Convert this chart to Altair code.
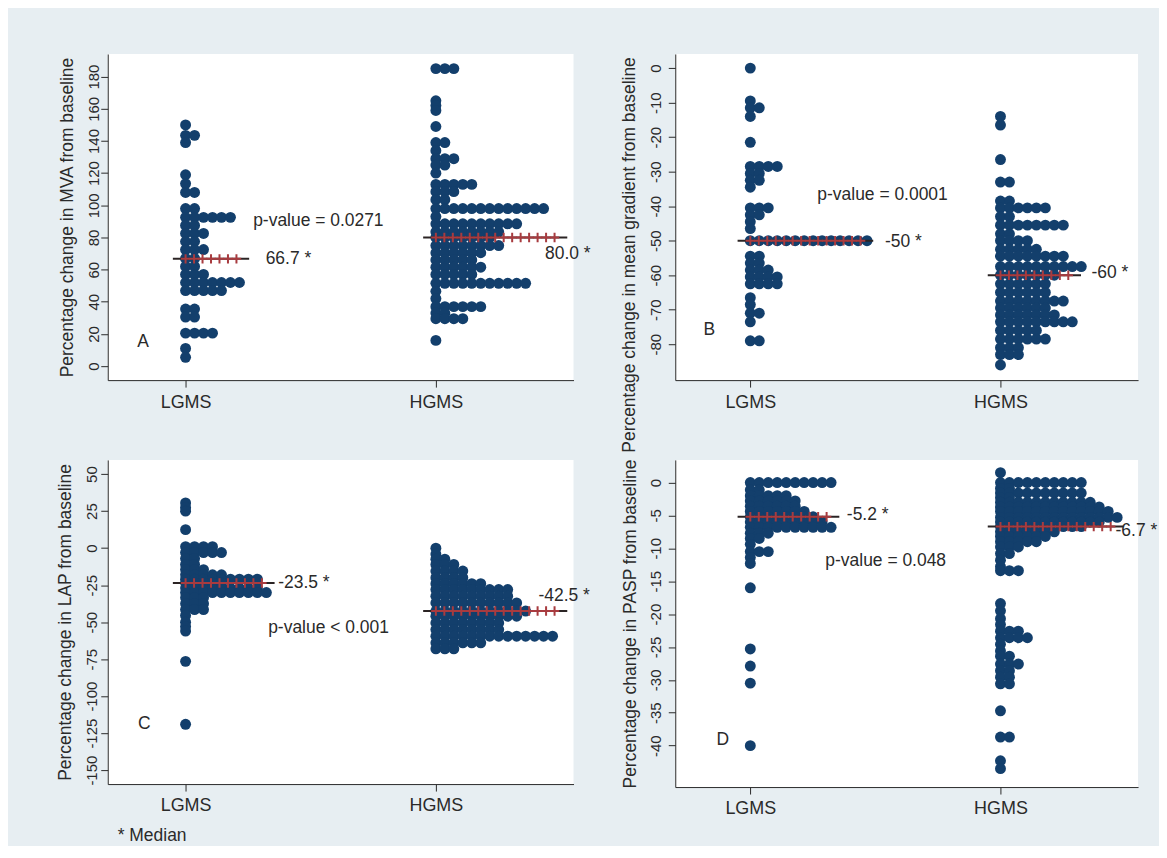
import altair as alt
import pandas as pd

FONT = "Liberation Sans, Arial, Helvetica, sans-serif"
NAVY = "#133f6c"
RED = "#a83b3f"
INK = "#2a2a2a"
BG = "#e7eef2"

GROUPS = ["LGMS", "HGMS"]
GROUP_POS = [1, 2]

# ---------------- Panel A : MVA ----------------
A_TITLE = "Percentage change in MVA from baseline"
A_TICKS = [0, 20, 40, 60, 80, 100, 120, 140, 160, 180]
A_LGMS_Y = [150, 143.5, 139, 119, 113.5, 108, 98, 92.5, 87.5, 82.5, 77.5, 72.5, 67, 62, 57, 52, 47, 35.5, 30.5, 20.5, 11, 5.5]
A_LGMS_N = [1, 2, 1, 1, 1, 2, 2, 6, 2, 3, 2, 3, 2, 2, 3, 7, 5, 2, 2, 4, 1, 1]
A_HGMS_Y = [185, 165, 162, 159, 149, 139, 134, 129, 125, 120, 113, 108.5, 103.5, 98, 93, 88.5, 83.5, 80, 75, 70.5,
            66, 61.5, 57, 51.5, 46.5, 42, 37, 33, 29.5, 16]
A_HGMS_N = [3, 1, 1, 1, 1, 2, 1, 3, 2, 1, 5, 3, 2, 13, 1, 10, 8, 7, 8, 6, 5, 6, 5, 11, 1, 1, 6, 2, 4, 1]
A_MEDIAN = [66.7, 80.0]
A_MEDIAN_MARKS = [7, 15]
A_NOTES = ["p-value = 0.0271", "66.7 *", "80.0 *"]
A_NOTE_X = [1.27, 1.32, 2.436]
A_NOTE_Y = [90.5, 66.8, 69.9]
A_LETTER = ("A", 0.83, 15)

# ---------------- Panel B : mean gradient ----------------
B_TITLE = "Percentage change in mean gradient from baseline"
B_TICKS = [0, -10, -20, -30, -40, -50, -60, -70, -80]
B_LGMS_Y = [0, -9.5, -11.5, -14, -21.5, -28.5, -30.5, -32.5, -34.5, -40.5, -42.5, -44.5, -46.5, -50, -54.5,
            -56.5, -58.5, -60.5, -62.5, -66.5, -68.5, -71, -73.5, -79]
B_LGMS_N = [1, 1, 2, 1, 1, 4, 2, 2, 1, 3, 2, 1, 1, 14, 2, 2, 3, 4, 4, 1, 1, 2, 1, 2]
B_HGMS_Y = [-14, -16.5, -26.5, -33, -38.5, -40.5, -43, -45.5, -48, -50, -52.5, -54.5, -57.5, -60, -62.5,
            -65, -67.5, -69.5, -71.5, -73.5, -76, -78.5, -81, -83, -86]
B_HGMS_N = [1, 1, 1, 2, 2, 6, 2, 8, 2, 4, 5, 8, 10, 7, 6, 6, 8, 6, 7, 9, 5, 6, 3, 3, 1]
B_MEDIAN = [-50, -60]
B_MEDIAN_MARKS = [14, 9]
B_NOTES = ["p-value = 0.0001", "-50 *", "-60 *"]
B_NOTE_X = [1.268, 1.538, 2.364]
B_NOTE_Y = [-36.9, -50.4, -59.5]
B_LETTER = ("B", 0.836, -76)

# ---------------- Panel C : LAP ----------------
C_TITLE = "Percentage change in LAP from baseline"
C_TICKS = [50, 25, 0, -25, -50, -75, -100, -125, -150]
C_LGMS_Y = [30.5, 27.5, 25, 12.5, 1, -3, -7, -11, -14.5, -18, -21, -23.5, -27, -30, -33.5, -37.5, -41.5,
            -45.5, -50, -53, -56, -76.5, -119]
C_LGMS_N = [1, 1, 1, 1, 4, 5, 2, 2, 3, 5, 9, 5, 9, 10, 3, 3, 3, 1, 1, 1, 1, 1, 1]
C_HGMS_Y = [0, -4, -7.5, -11, -15.5, -20, -24, -28, -32.5, -37, -42.5, -46, -50.5, -55, -59.5, -64, -68]
C_HGMS_N = [1, 1, 2, 3, 4, 4, 6, 9, 9, 10, 11, 10, 8, 8, 14, 6, 3]
C_MEDIAN = [-23.5, -42.5]
C_MEDIAN_MARKS = [10, 15]
C_NOTES = ["-23.5 *", "p-value < 0.001", "-42.5 *"]
C_NOTE_X = [1.37, 1.33, 2.41]
C_NOTE_Y = [-23.5, -53.8, -32.5]
C_LETTER = ("C", 0.835, -119)
FOOTNOTE = "* Median"

# ---------------- Panel D : PASP ----------------
D_TITLE = "Percentage change in PASP from baseline"
D_TICKS = [0, -5, -10, -15, -20, -25, -30, -35, -40]
D_LGMS_Y = [0, -1.1, -2, -2.8, -3.6, -4.4, -5.2, -6, -6.8, -7.7, -8.5, -9.4, -10.5, -11.4, -12.3, -16,
            -25.3, -27.9, -30.5, -40]
D_LGMS_N = [10, 2, 5, 6, 6, 7, 8, 9, 10, 3, 2, 1, 3, 1, 1, 1, 1, 1, 1, 1]
D_HGMS_Y = [1.5, 0, -0.9, -1.6, -2.3, -3, -3.7, -4.4, -5.3, -6, -6.7, -7.5, -8.2, -9, -9.8, -10.8, -11.8,
            -12.8, -13.4, -18.4, -19.5, -20.7, -21.6, -22.6, -23.6, -24.6, -25.6, -26.4, -27.6, -28.6,
            -29.6, -30.6, -34.7, -38.7, -42.3, -43.5]
D_HGMS_N = [1, 10, 2, 10, 2, 11, 12, 13, 14, 12, 10, 7, 6, 5, 3, 2, 1, 1, 3, 1, 1, 1, 1, 3, 4, 1, 1, 2, 3,
            2, 2, 2, 1, 2, 1, 1]
D_MEDIAN = [-5.2, -6.7]
D_MEDIAN_MARKS = [10, 14]
D_NOTES = ["-5.2 *", "p-value = 0.048", "-6.7 *"]
D_NOTE_X = [1.386, 1.30, 2.46]
D_NOTE_Y = [-4.9, -12, -7.3]
D_LETTER = ("D", 0.89, -39.2)

DOT_PX = 9.0      # horizontal spacing of stacked dots
MARK_PX = 8.5     # spacing of median "+" marks
FS = 17.5


def build_panel(p):
    x0, x1 = p["xdom"]
    ppu = p["w"] / (x1 - x0)
    dstep = DOT_PX / ppu
    tstep = MARK_PX / ppu
    dots, marks, rules = [], [], []
    for gi, center in enumerate(GROUP_POS):
        ys, ns = p["dots"][gi]
        for y, n in zip(ys, ns):
            for k in range(n):
                dots.append({"x": center + k * dstep, "y": y})
        med = p["median"][gi]
        nm = p["marks"][gi]
        for k in range(nm):
            marks.append({"x": center + k * tstep, "y": med})
        rules.append({"x": center - 1.5 * tstep, "x2": center + (nm + 0.5) * tstep, "y": med})
    notes = pd.DataFrame({"text": p["notes"], "x": p["note_x"], "y": p["note_y"]})
    letter = pd.DataFrame({"text": [p["letter"][0]], "x": [p["letter"][1]], "y": [p["letter"][2]]})

    xaxis = alt.Axis(values=[1, 2], labelExpr="datum.value == 1 ? 'LGMS' : 'HGMS'", title="",
                     labelFont=FONT, labelFontSize=18, labelColor=INK, labelAngle=0, labelPadding=6,
                     labelFlush=False, tickSize=7, tickColor=INK, domainColor=INK, grid=False)
    ykw = dict(values=p["ticks"], labelExpr="'' + datum.value", title=p["title"],
               labelAngle=270, labelAlign="center", labelBaseline="alphabetic",
               labelPadding=p["lpad"], labelFont=FONT, labelFontSize=15, labelColor=INK,
               labelOverlap=False, labelFlush=False, tickSize=7, tickColor=INK, domainColor=INK,
               grid=False, titleFont=FONT, titleFontSize=FS, titleFontWeight="normal",
               titleColor=INK, titleAngle=270, titleBaseline="alphabetic", titleX=p["tx"])
    if "ty" in p:
        ykw["titleY"] = p["ty"]
    yaxis = alt.Axis(**ykw)

    X = alt.X("x:Q", scale=alt.Scale(domain=[x0, x1], nice=False, zero=False), axis=xaxis)
    Y = alt.Y("y:Q", scale=alt.Scale(domain=p["ydom"], nice=False, zero=False), axis=yaxis)

    l_dots = alt.Chart(pd.DataFrame(dots)).mark_circle(size=120, color=NAVY, opacity=1).encode(x=X, y=Y)
    l_rule = alt.Chart(pd.DataFrame(rules)).mark_rule(color="#2b2424", strokeWidth=2).encode(
        x=X, x2=alt.X2("x2:Q"), y=Y)
    l_marks = alt.Chart(pd.DataFrame(marks)).mark_point(
        shape="M-1,0L1,0M0,-1L0,1", size=90, filled=False, strokeWidth=2, color=RED, opacity=1
    ).encode(x=X, y=Y)
    l_notes = alt.Chart(notes).mark_text(align="left", baseline="middle", font=FONT, fontSize=FS,
                                         color=INK).encode(x=X, y=Y, text="text:N")
    l_letter = alt.Chart(letter).mark_text(align="center", baseline="middle", font=FONT, fontSize=FS,
                                           color=INK).encode(x=X, y=Y, text="text:N")
    props = dict(width=p["w"], height=p["h"])
    if "foot" in p:
        props["title"] = alt.TitleParams(p["foot"], orient="bottom", anchor="start", frame="group",
                                         offset=12, dx=10, font=FONT, fontSize=FS,
                                         fontWeight="normal", color=INK)
    return alt.layer(l_dots, l_rule, l_marks, l_notes, l_letter).properties(**props)


LEFT_X = [0.689, 2.55]
RIGHT_X = [0.70, 2.55]

pA = dict(title=A_TITLE, ticks=A_TICKS, ydom=[-8.7, 194.1], xdom=LEFT_X, w=467, h=327, lpad=2, tx=-35,
          dots=[(A_LGMS_Y, A_LGMS_N), (A_HGMS_Y, A_HGMS_N)], median=A_MEDIAN, marks=A_MEDIAN_MARKS,
          notes=A_NOTES, note_x=A_NOTE_X, note_y=A_NOTE_Y, letter=A_LETTER)
pB = dict(title=B_TITLE, ticks=B_TICKS, ydom=[-90.4, 4.1], xdom=RIGHT_X, w=464, h=327, lpad=8, tx=-41, ty=201,
          dots=[(B_LGMS_Y, B_LGMS_N), (B_HGMS_Y, B_HGMS_N)], median=B_MEDIAN, marks=B_MEDIAN_MARKS,
          notes=B_NOTES, note_x=B_NOTE_X, note_y=B_NOTE_Y, letter=B_LETTER)
pC = dict(title=C_TITLE, ticks=C_TICKS, ydom=[-159.4, 59.6], xdom=LEFT_X, w=467, h=325, lpad=4, tx=-37,
          dots=[(C_LGMS_Y, C_LGMS_N), (C_HGMS_Y, C_HGMS_N)], median=C_MEDIAN, marks=C_MEDIAN_MARKS,
          notes=C_NOTES, note_x=C_NOTE_X, note_y=C_NOTE_Y, letter=C_LETTER, foot=FOOTNOTE)
pD = dict(title=D_TITLE, ticks=D_TICKS, ydom=[-46.3, 3.44], xdom=RIGHT_X, w=464, h=328, lpad=8, tx=-40,
          dots=[(D_LGMS_Y, D_LGMS_N), (D_HGMS_Y, D_HGMS_N)], median=D_MEDIAN, marks=D_MEDIAN_MARKS,
          notes=D_NOTES, note_x=D_NOTE_X, note_y=D_NOTE_Y, letter=D_LETTER)

chart = alt.concat(
    build_panel(pA), build_panel(pB), build_panel(pC), build_panel(pD),
    columns=2, spacing={"row": 80, "column": 102}, bounds="flush",
).properties(
    background=BG,
    padding={"left": 48, "top": 45, "right": 1, "bottom": 0},
).configure_view(fill="white", strokeWidth=0)

chart.save("out.html", embed_options={"renderer": "svg", "actions": False})
